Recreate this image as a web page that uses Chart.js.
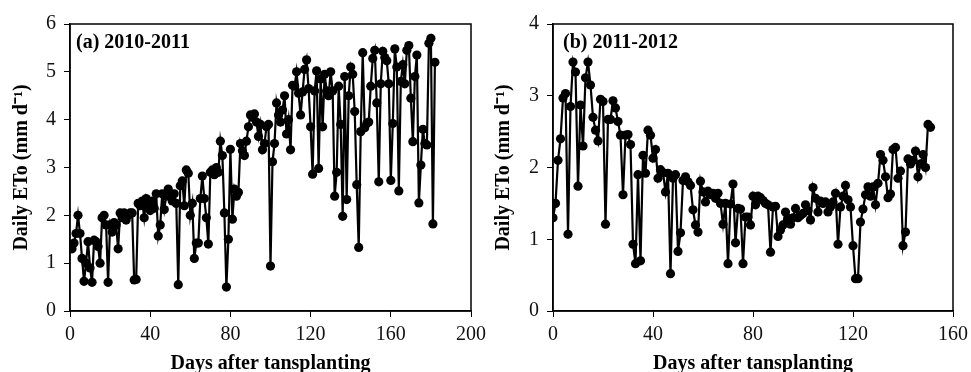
<!DOCTYPE html>
<html>
<head>
<meta charset="utf-8">
<script src="https://cdn.jsdelivr.net/npm/chart.js@4.4.1/dist/chart.umd.min.js"></script>
<style>
  html, body { margin: 0; padding: 0; background: #fff; }
  #wrap { position: relative; width: 971px; height: 372px; overflow: hidden; }
  .box { position: absolute; top: 0; height: 372px; }
</style>
</head>
<body>
<div id="wrap">
  <div class="box" style="left:0;width:493px"><canvas id="chartA"></canvas></div>
  <div class="box" style="left:485px;width:490px"><canvas id="chartB"></canvas></div>
</div>
<script>
// panel (a) 2010-2011, daily ETo from day 1
const etoA = [
  1.30, 1.42, 1.62, 2.00, 1.62, 1.10, 0.62, 1.00, 1.45, 0.90,
  0.60, 1.48, 1.45, 1.35, 1.00, 1.95, 2.00, 1.80, 0.60, 1.80,
  1.65, 1.85, 1.80, 1.30, 2.05, 1.95, 2.05, 1.90, 2.00, 2.05,
  2.05, 0.65, 0.66, 2.25, 2.20, 2.30, 1.95, 2.35, 2.20, 2.10,
  2.30, 2.15, 2.45, 1.57, 1.80, 2.45, 2.12, 2.40, 2.55, 2.40,
  2.30, 2.45, 2.25, 0.55, 2.62, 2.72, 2.20, 2.95, 2.88, 2.00,
  2.25, 1.10, 1.42, 1.42, 2.35, 2.82, 2.35, 1.95, 1.40, 2.90,
  2.95, 2.85, 3.00, 2.90, 3.55, 3.25, 2.05, 0.50, 1.50, 3.38,
  1.92, 2.55, 2.40, 2.48, 3.50, 3.35, 3.25, 3.55, 3.85, 4.10,
  4.05, 4.12, 3.95, 3.65, 3.90, 3.37, 3.50, 3.85, 3.90, 0.94,
  3.12, 3.50, 4.35, 4.10, 3.95, 4.20, 4.50, 3.70, 4.00, 3.37,
  4.72, 4.70, 5.00, 4.55, 4.10, 4.58, 5.05, 5.25, 4.65, 3.85,
  2.86, 4.60, 5.02, 2.98, 4.85, 3.85, 4.95, 4.60, 4.50, 5.00,
  4.60, 2.40, 2.90, 4.70, 3.90, 1.98, 4.90, 2.33, 4.50, 5.10,
  4.95, 4.17, 2.64, 1.33, 3.75, 5.40, 3.83, 3.92, 3.95, 4.70,
  5.28, 5.45, 4.35, 2.70, 4.75, 5.43, 5.30, 5.23, 4.75, 2.73,
  3.92, 5.48, 5.10, 2.51, 4.80, 5.15, 4.75, 5.45, 5.55, 4.45,
  3.54, 4.90, 5.35, 2.26, 3.05, 3.80, 3.50, 3.47, 5.60, 5.70,
  1.82, 5.20
];
const firstDayA = 1;

// panel (b) 2011-2012, daily ETo from day 0
const etoB = [
  1.30, 1.50, 2.10, 2.40, 2.97, 3.03, 1.07, 2.85, 3.47, 3.33,
  1.74, 2.87, 2.30, 3.25, 3.47, 3.15, 2.70, 2.52, 2.37, 2.95,
  2.92, 1.21, 2.67, 2.67, 2.93, 2.83, 2.64, 2.45, 1.62, 2.45,
  2.46, 2.32, 0.93, 0.66, 1.90, 0.70, 2.17, 1.92, 2.52, 2.45,
  2.13, 2.25, 1.85, 1.97, 1.93, 1.66, 1.92, 0.52, 1.85, 1.90,
  0.83, 1.09, 1.82, 1.87, 1.80, 1.75, 1.41, 1.20, 1.10, 1.81,
  1.66, 1.52, 1.67, 1.62, 1.64, 1.57, 1.64, 1.50, 1.21, 1.50,
  0.66, 1.49, 1.77, 0.95, 1.43, 1.42, 0.66, 1.31, 1.31, 1.20,
  1.60, 1.48, 1.60, 1.58, 1.54, 1.50, 1.48, 0.82, 1.45, 1.46,
  1.04, 1.13, 1.20, 1.38, 1.29, 1.21, 1.30, 1.43, 1.30, 1.33,
  1.36, 1.48, 1.40, 1.27, 1.72, 1.57, 1.38, 1.53, 1.50, 1.52,
  1.38, 1.45, 1.52, 1.64, 0.93, 1.45, 1.60, 1.75, 1.55, 1.45,
  0.91, 0.45, 0.45, 1.24, 1.42, 1.62, 1.73, 1.60, 1.73, 1.48,
  1.78, 2.18, 2.10, 1.87, 1.58, 1.63, 2.25, 2.28, 1.85, 1.95,
  0.91, 1.10, 2.12, 2.05, 2.10, 2.23, 1.87, 2.05, 2.18, 2.00,
  2.60, 2.56
];
const firstDayB = 0;

const serif = "'Liberation Serif', 'Times New Roman', serif";

// frame around the plot area + panel label in the top left corner
const framePlugin = {
  id: 'frame',
  afterDraw(chart, args, opts) {
    const { ctx, chartArea: a } = chart;
    ctx.save();
    ctx.strokeStyle = '#000';
    ctx.lineWidth = 1.5;
    ctx.strokeRect(a.left, a.top, a.right - a.left, a.bottom - a.top);
    ctx.fillStyle = '#000';
    ctx.font = "bold 20px " + serif;
    ctx.textBaseline = 'alphabetic';
    ctx.fillText(opts.label, a.left + opts.dx, a.top + 24);
    ctx.restore();
  }
};

function makeChart(id, values, firstDay, cfg) {
  const points = values.map((v, i) => ({ x: firstDay + i, y: v }));
  const ctx = document.getElementById(id).getContext('2d');
  return new Chart(ctx, {
    type: 'line',
    data: {
      datasets: [{
        data: points,
        borderColor: '#000',
        backgroundColor: '#000',
        borderWidth: 2.2,
        pointRadius: 4.6,
        pointBorderWidth: 0,
        pointBackgroundColor: '#000',
        tension: 0
      }]
    },
    options: {
      responsive: true,
      maintainAspectRatio: false,
      animation: false,
      layout: { padding: { left: 0, right: cfg.padRight, top: 24, bottom: 0 } },
      plugins: {
        legend: { display: false },
        tooltip: { enabled: false },
        frame: { label: cfg.label, dx: cfg.labelDx }
      },
      scales: {
        x: {
          type: 'linear',
          min: 0, max: cfg.xMax,
          afterFit: s => { s.height = 61; },
          ticks: { stepSize: 40, color: '#111', padding: 6, maxRotation: 0,
                   font: { family: serif, size: 20 } },
          grid: { drawOnChartArea: false, drawTicks: true, tickLength: 6, color: '#000' },
          border: { display: true, color: '#000', width: 1.5 },
          title: { display: true, text: 'Days after tansplanting', color: '#000',
                   padding: { top: 0, bottom: -4 },
                   font: { family: serif, size: 20, weight: 'bold' } }
        },
        y: {
          min: 0, max: cfg.yMax,
          afterFit: s => { s.width = cfg.yWidth; },
          ticks: { stepSize: 1, color: '#111', padding: 8,
                   font: { family: serif, size: 20 } },
          grid: { drawOnChartArea: false, drawTicks: true, tickLength: 6, color: '#000' },
          border: { display: true, color: '#000', width: 1.5 },
          title: { display: true, text: 'Daily ETo (mm d\u207B\u00B9)', color: '#000',
                   padding: { top: cfg.yTitlePad, bottom: 0 },
                   font: { family: serif, size: 20, weight: 'bold' } }
        }
      }
    },
    plugins: [framePlugin]
  });
}

makeChart('chartA', etoA, firstDayA,
  { xMax: 200, yMax: 6, yWidth: 70, padRight: 22, yTitlePad: 10, label: '(a) 2010-2011', labelDx: 6 });
makeChart('chartB', etoB, firstDayB,
  { xMax: 160, yMax: 4, yWidth: 68, padRight: 22, yTitlePad: 7, label: '(b) 2011-2012', labelDx: 10 });
</script>
</body>
</html>
